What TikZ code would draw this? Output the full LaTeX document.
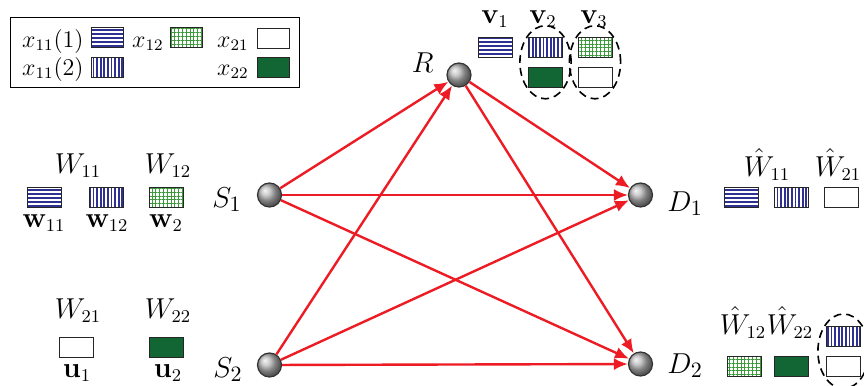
\documentclass[tikz,border=0pt]{standalone}
\usepackage{amsmath}
\usetikzlibrary{arrows.meta, patterns.meta, shapes.geometric, fit}
\definecolor{cred}{HTML}{ED1C24}
\definecolor{cblue}{HTML}{2E3192}
\definecolor{cgreen}{HTML}{3C9A3C}
\definecolor{cdark}{HTML}{116633}

\begin{document}
\begin{tikzpicture}[
  x=0.5pt, y=-0.5pt,
  font=\large,
  relay/.style={circle, minimum size=12pt, inner sep=0pt, shading=ball,
                ball color=black!28, draw=black!80, line width=0.6pt},
  tag/.style={font=\fontsize{15.5}{18}\selectfont, inner sep=0pt},
  lbl/.style={anchor=base, inner sep=0pt, font=\fontsize{13.5}{16}\selectfont},
  sw/.style={draw=black!85, line width=0.5pt, minimum width=17pt,
             minimum height=10pt, inner sep=0pt},
  hsw/.style={sw, pattern={Lines[angle=0, distance=2pt, line width=1pt]}, pattern color=cblue},
  vsw/.style={sw, pattern={Lines[angle=90, distance=1.8pt, line width=0.9pt]}, pattern color=cblue},
  gsw/.style={sw, pattern={Hatch[angle=0, distance=1.9pt, line width=0.4pt]}, pattern color=cgreen},
  wsw/.style={sw, fill=white},
  dsw/.style={sw, fill=cdark},
  grp/.style={ellipse, draw, line width=0.8pt, dash pattern=on 4pt off 2.5pt, inner sep=0.3pt},
  link/.style={draw=cred, line width=1.2pt, -{Latex[length=7pt, width=6pt]}},
]
\clip (0,0) rectangle (864,386);
% Legend
\node[draw, line width=0.5pt, minimum width=144.5pt, minimum height=35pt] (legend) at (154.5,52) {};
\node[inner sep=0pt, anchor=base east] (lx111) at (84,47) {$x_{11}(1)$};
\node[inner sep=0pt, anchor=base east] (lx12) at (164,47) {$x_{12}$};
\node[inner sep=0pt, anchor=base east] (lx21) at (249,47) {$x_{21}$};
\node[inner sep=0pt, anchor=base east] (lx112) at (84,75) {$x_{11}(2)$};
\node[inner sep=0pt, anchor=base east] (lx22) at (249,75) {$x_{22}$};
\node[hsw, minimum width=16pt] (kh) at (107,37.5) {};
\node[gsw, minimum width=16pt] (kg) at (186,37.5) {};
\node[wsw, minimum width=16pt] (kw) at (273,38) {};
\node[vsw, minimum width=16pt] (kv) at (107,67) {};
\node[dsw, minimum width=16pt] (kd) at (273,67) {};
% Terminals
\node[relay] (S1) at (269.5,195) {};
\node[relay] (S2) at (269.5,365) {};
\node[relay] (R) at (459,75) {};
\node[relay] (D1) at (640.5,195) {};
\node[relay] (D2) at (640.5,364) {};
\node[tag, anchor=base east] at (242,207) {$S_1$};
\node[tag, anchor=base east] at (243,377) {$S_2$};
\node[tag, anchor=base east] at (434,72) {$R$};
\node[tag, anchor=base west] at (667,211) {$D_1$};
\node[tag, anchor=base west] at (667,373) {$D_2$};
% Links
\foreach \a/\b in {S1/R, S1/D1, S1/D2, S2/R, S2/D1, S2/D2, R/D1, R/D2}
  \draw[link] (\a) -- (\b);
% Messages at the sources
\foreach \n/\s/\x/\y in {w11/hsw/44/197, w12/vsw/106.5/197, w2/gsw/166/197,
                         u1/wsw/76.5/347, u2/dsw/166/347}
  \node[\s] (\n) at (\x,\y) {};
\node[lbl] at (78,173) {$W_{11}$};
\node[lbl] at (168,173) {$W_{12}$};
\node[lbl] at (44,227) {$\mathbf{w}_{11}$};
\node[lbl] at (107,227) {$\mathbf{w}_{12}$};
\node[lbl] at (166,227) {$\mathbf{w}_{2}$};
\node[lbl] at (78,318) {$W_{21}$};
\node[lbl] at (168,318) {$W_{22}$};
\node[lbl] at (77,377) {$\mathbf{u}_{1}$};
\node[lbl] at (168,377) {$\mathbf{u}_{2}$};
% Relay signals
\foreach \n/\s/\x/\y in {v1/hsw/495/47.5, v2a/vsw/545.5/47.5, v2b/dsw/545.5/77,
                         v3a/gsw/595/47.5, v3b/wsw/595/77}
  \node[\s] (\n) at (\x,\y) {};
\node[lbl] at (495,23) {$\mathbf{v}_{1}$};
\node[lbl] at (543,23) {$\mathbf{v}_{2}$};
\node[lbl] at (594,23) {$\mathbf{v}_{3}$};
\node[grp, fit=(v2a)(v2b)] (g2) {};
\node[grp, fit=(v3a)(v3b)] (g3) {};
% Decoded at the destinations
\foreach \n/\s/\x/\y in {d11/hsw/741.5/197, d12/vsw/791/197, d13/wsw/841/197,
                         d21/gsw/744.5/366, d22/dsw/791.5/366,
                         d23/vsw/843.5/336, d24/wsw/843.5/366.5}
  \node[\s] (\n) at (\x,\y) {};
\node[lbl] at (767,176) {$\hat{W}_{11}$};
\node[lbl] at (838,176) {$\hat{W}_{21}$};
\node[lbl] at (743,334) {$\hat{W}_{12}$};
\node[lbl] at (790,334) {$\hat{W}_{22}$};
\node[grp, fit=(d23)(d24)] (g4) {};
\end{tikzpicture}
\end{document}
